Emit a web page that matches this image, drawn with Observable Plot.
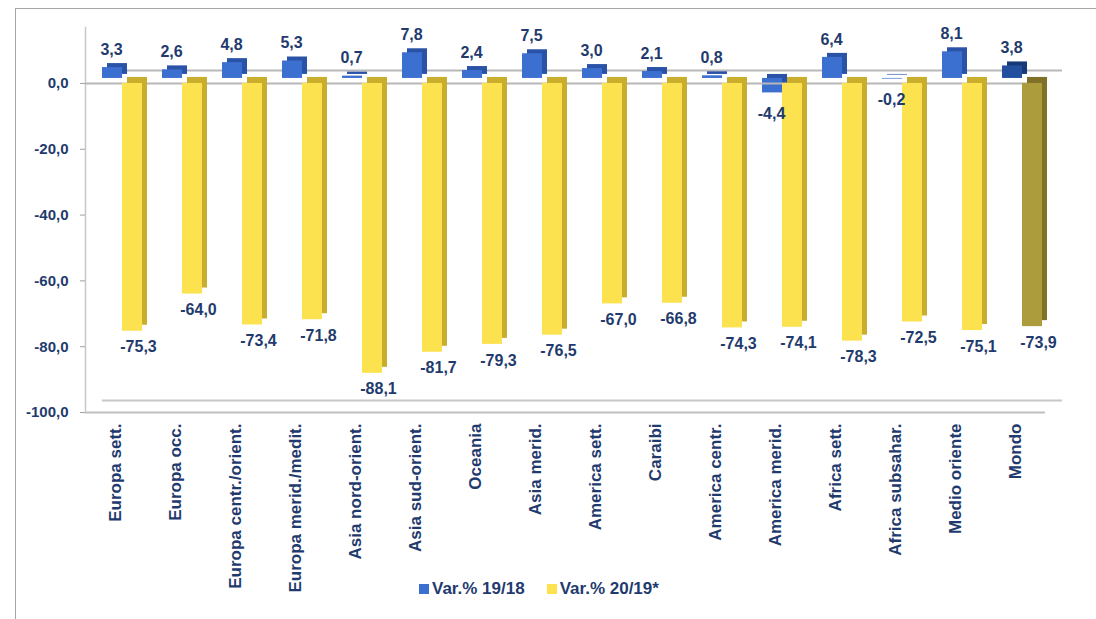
<!DOCTYPE html>
<html>
<head>
<meta charset="utf-8">
<script src="https://cdn.jsdelivr.net/npm/d3@7"></script>
<script src="https://cdn.jsdelivr.net/npm/@observablehq/plot@0.6"></script>
<style>
  html, body { margin: 0; padding: 0; background: #fff; }
  #wrap { position: relative; width: 1096px; height: 619px; overflow: hidden; font-family: "Liberation Sans", Arial, sans-serif; }
  #border { position: absolute; left: 15px; top: 8px; width: 1100px; height: 620px; border: 1px solid #a6a6a6; box-sizing: border-box; }
  #chart { position: absolute; left: 0; top: 0; }
  #legend { position: absolute; top: 579px; left: 419px; display: flex; align-items: center; font-weight: bold; font-size: 17px; color: #1f3b6e; }
  #legend .sw { width: 10px; height: 10px; display: inline-block; margin-right: 3px; }
  #legend .item { display: flex; align-items: center; margin-right: 22px; }
</style>
</head>
<body>
<div id="wrap">
  <div id="border"></div>
  <div id="chart"></div>
  <div id="legend"></div>
</div>
<script>
const categories = [
  "Europa sett.", "Europa occ.", "Europa centr./orient.", "Europa merid./medit.",
  "Asia nord-orient.", "Asia sud-orient.", "Oceania", "Asia merid.",
  "America sett.", "Caraibi", "America centr.", "America merid.",
  "Africa sett.", "Africa subsahar.", "Medio oriente", "Mondo"
];
const var1918 = [3.3, 2.6, 4.8, 5.3, 0.7, 7.8, 2.4, 7.5, 3.0, 2.1, 0.8, -4.4, 6.4, -0.2, 8.1, 3.8];
const var2019 = [-75.3, -64.0, -73.4, -71.8, -88.1, -81.7, -79.3, -76.5, -67.0, -66.8, -74.3, -74.1, -78.3, -72.5, -75.1, -73.9];
const yTicks = [0, -20, -40, -60, -80, -100];
const seriesNames = ["Var.% 19/18", "Var.% 20/19*"];

const data = categories.map((c, i) => ({cat: c, a: var1918[i], b: var2019[i], world: c === "Mondo"}));
const fmt = v => v.toFixed(1).replace(".", ",");
const textColor = "#1f3b6e";

const blueFront = d => d.world ? "#22509e" : "#3b6fd0";
const blueSide = d => d.world ? "#163a78" : "#2a52a6";
const yelFront = d => d.world ? "#ad9c3c" : "#fde24f";
const yelSide = d => d.world ? "#7f7128" : "#c9ad2c";

const posA = data.filter(d => d.a >= 0);
const negA = data.filter(d => d.a < 0);

const plot = Plot.plot({
  width: 1096,
  height: 619,
  marginTop: 27,
  marginBottom: 207,
  marginLeft: 85,
  marginRight: 51,
  style: {fontFamily: "'Liberation Sans', Arial, sans-serif", background: "transparent", overflow: "visible"},
  color: {type: "identity"},
  x: {domain: categories, padding: 0, label: null},
  y: {domain: [-100, 17], label: null},
  marks: [
    // floor (3D base)
    Plot.ruleY([-100], {dx: 17, dy: -12, stroke: "#c8c8c8", strokeWidth: 2}),
    Plot.ruleY([-100], {stroke: "#c0c0c0", strokeWidth: 2}),
    // back zero line
    Plot.ruleY([0], {dx: 17, dy: -13, stroke: "#b8b8b8", strokeWidth: 2}),
    Plot.frame({anchor: "left", stroke: "#c8c8c8", strokeWidth: 1.5}),
    // blue bars (back row)
    Plot.barY(data, {x: "cat", y: "a", fill: blueSide, insetLeft: 17, insetRight: 23, dx: 5, dy: -9}),
    Plot.barY(data, {x: "cat", y: "a", fill: blueFront, insetLeft: 17, insetRight: 23, dy: -5}),
    // front zero line
    Plot.ruleY([0], {stroke: "#b8b8b8", strokeWidth: 2}),
    // yellow bars (front row)
    Plot.barY(data, {x: "cat", y: "b", fill: yelSide, insetLeft: 37, insetRight: 3, dx: 5, dy: -6}),
    Plot.barY(data, {x: "cat", y: "b", fill: yelFront, insetLeft: 37, insetRight: 3}),
    // value labels
    Plot.text(posA, {x: "cat", y: "a", text: d => fmt(d.a), dx: -4, dy: -23, fill: textColor, fontWeight: "bold", fontSize: 16}),
    Plot.text(negA, {x: "cat", y: "a", text: d => fmt(d.a), dx: -4, dy: 16, fill: textColor, fontWeight: "bold", fontSize: 16}),
    Plot.text(data, {x: "cat", y: "b", text: d => fmt(d.b), dx: 23, dy: 16, fill: textColor, fontWeight: "bold", fontSize: 16}),
    // axes
    Plot.axisY({ticks: yTicks, tickFormat: fmt, tickSize: 5, tickPadding: 12, stroke: "#a0a0a0", fill: textColor, fontWeight: "bold", fontSize: 15}),
    Plot.axisX({tickRotate: -90, tickSize: 0, tickPadding: 11, fill: textColor, fontWeight: "bold", fontSize: 17})
  ]
});
document.getElementById("chart").appendChild(plot);

const legendColors = ["#3b6fd0", "#fde24f"];
const legend = document.getElementById("legend");
seriesNames.forEach((name, i) => {
  const item = document.createElement("span");
  item.className = "item";
  const sw = document.createElement("span");
  sw.className = "sw";
  sw.style.background = legendColors[i];
  item.appendChild(sw);
  item.appendChild(document.createTextNode(name));
  legend.appendChild(item);
});
</script>
</body>
</html>
